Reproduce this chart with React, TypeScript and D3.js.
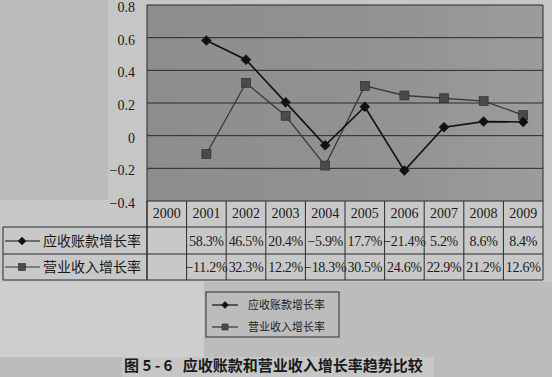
import React from "react";
import * as d3 from "d3";

const years = ["2000", "2001", "2002", "2003", "2004", "2005", "2006", "2007", "2008", "2009"];
const receivables: (number | null)[] = [null, 0.583, 0.465, 0.204, -0.059, 0.177, -0.214, 0.052, 0.086, 0.084];
const revenue: (number | null)[] = [null, -0.112, 0.323, 0.122, -0.183, 0.305, 0.246, 0.229, 0.212, 0.126];
const receivablesLabels = ["", "58.3%", "46.5%", "20.4%", "\u22125.9%", "17.7%", "\u221221.4%", "5.2%", "8.6%", "8.4%"];
const revenueLabels = ["", "\u221211.2%", "32.3%", "12.2%", "\u221218.3%", "30.5%", "24.6%", "22.9%", "21.2%", "12.6%"];
const yTicks = [0.8, 0.6, 0.4, 0.2, 0, -0.2, -0.4];
const seriesNames = ["应收账款增长率", "营业收入增长率"];
const caption = "图 5 - 6   应收账款和营业收入增长率趋势比较";

const W = 552;
const H = 377;
const serif = "'Liberation Serif', 'DejaVu Serif', serif";
const cjk = "'Noto Sans CJK SC', sans-serif";

export default function App() {
  const x = d3.scaleBand<string>().domain(years).range([147, 543]).padding(0);
  const y = d3.scaleLinear().domain([-0.4, 0.8]).range([201, 5]);
  const cx = (yr: string) => (x(yr) as number) + x.bandwidth() / 2;

  const line = d3
    .line<[string, number | null]>()
    .defined((d) => d[1] !== null)
    .x((d) => cx(d[0]))
    .y((d) => y(d[1] as number));

  const recPts = years.map((yr, i) => [yr, receivables[i]] as [string, number | null]);
  const revPts = years.map((yr, i) => [yr, revenue[i]] as [string, number | null]);

  const rowTop = [201, 227, 254, 280];
  const plotL = 147;
  const plotR = 543;

  const diamond = (px: number, py: number, s: number, key?: string | number) => (
    <path
      key={key}
      d={`M${px},${py - s}L${px + s},${py}L${px},${py + s}L${px - s},${py}Z`}
      fill="#111"
      stroke="#111"
      strokeWidth={0.5}
    />
  );
  const square = (px: number, py: number, s: number, key?: string | number) => (
    <rect key={key} x={px - s} y={py - s} width={2 * s} height={2 * s} fill="#4a4a4a" stroke="#2a2a2a" strokeWidth={0.6} />
  );

  return (
    <svg width={W} height={H} style={{ position: "absolute", left: 0, top: 0 }}>
      <defs>
        <linearGradient id="plotbg" x1="0" x2="1" y1="0" y2="0">
          <stop offset="0" stopColor="#8d8d8d" />
          <stop offset="0.6" stopColor="#929292" />
          <stop offset="1" stopColor="#9c9c9c" />
        </linearGradient>
      </defs>
      {/* page backgrounds */}
      <rect x={0} y={0} width={W} height={H} fill="#bcbcbc" />
      <rect x={108} y={0} width={W - 108} height={200} fill="#c6c6c6" />
      <rect x={0} y={200} width={W} height={82} fill="#c8c8c8" />
      <rect x={0} y={282} width={204} height={75} fill="#cecece" />
      <rect x={122} y={357} width={312} height={20} fill="#c6c6c6" />

      {/* plot area */}
      <rect x={plotL} y={y(0.8)} width={plotR - plotL} height={y(-0.4) - y(0.8)} fill="url(#plotbg)" />
      {yTicks.map((t) => (
        <line key={t} x1={plotL} x2={plotR} y1={y(t)} y2={y(t)} stroke="#2a2a2a" strokeWidth={1} />
      ))}
      <line x1={plotL} x2={plotL} y1={y(0.8)} y2={rowTop[3]} stroke="#2a2a2a" strokeWidth={1} />
      <line x1={plotR} x2={plotR} y1={y(0.8)} y2={rowTop[3]} stroke="#2a2a2a" strokeWidth={1} />

      {/* y tick labels */}
      {yTicks.map((t) => (
        <text
          key={t}
          x={135}
          y={y(t) + 7}
          textAnchor="end"
          fontFamily={serif}
          fontSize={14}
          fill="#1a1a1a"
        >
          {t === 0 ? "0" : t < 0 ? "\u2212" + Math.abs(t).toFixed(1) : t.toFixed(1)}
        </text>
      ))}

      {/* lines */}
      <path d={line(revPts) || ""} fill="none" stroke="#3a3a3a" strokeWidth={1.3} />
      <path d={line(recPts) || ""} fill="none" stroke="#111" strokeWidth={1.6} />
      {revPts.filter((d) => d[1] !== null).map((d, i) => square(cx(d[0]), y(d[1] as number), 4.5, "s" + i))}
      {recPts.filter((d) => d[1] !== null).map((d, i) => diamond(cx(d[0]), y(d[1] as number), 5, "d" + i))}

      {/* data table */}
      {years.map((yr) => (
        <line key={"v" + yr} x1={x(yr) as number} x2={x(yr) as number} y1={rowTop[0]} y2={rowTop[3]} stroke="#2a2a2a" strokeWidth={1} />
      ))}
      {rowTop.slice(1).map((ty) => (
        <line key={"h" + ty} x1={3} x2={plotR} y1={ty} y2={ty} stroke="#2a2a2a" strokeWidth={1} />
      ))}
      <line x1={3} x2={3} y1={rowTop[1]} y2={rowTop[3]} stroke="#2a2a2a" strokeWidth={1} />
      {years.map((yr) => (
        <text key={"y" + yr} x={cx(yr)} y={218} textAnchor="middle" fontFamily={serif} fontSize={14} fill="#1a1a1a">
          {yr}
        </text>
      ))}
      {years.map((yr, i) => (
        <text key={"r" + yr} x={cx(yr)} y={246} textAnchor="middle" fontFamily={serif} fontSize={14} fill="#1a1a1a" letterSpacing={-0.3}>
          {receivablesLabels[i]}
        </text>
      ))}
      {years.map((yr, i) => (
        <text key={"e" + yr} x={cx(yr)} y={272} textAnchor="middle" fontFamily={serif} fontSize={14} fill="#1a1a1a" letterSpacing={-0.3}>
          {revenueLabels[i]}
        </text>
      ))}
      {/* row labels */}
      <line x1={5} x2={40} y1={241} y2={241} stroke="#111" strokeWidth={1.2} />
      {diamond(22, 241, 4)}
      <text x={43} y={246} fontFamily={cjk} fontSize={14} fill="#1a1a1a">{seriesNames[0]}</text>
      <line x1={5} x2={40} y1={267} y2={267} stroke="#333" strokeWidth={1.2} />
      {square(22, 267, 3.5)}
      <text x={43} y={272} fontFamily={cjk} fontSize={14} fill="#1a1a1a">{seriesNames[1]}</text>

      {/* legend */}
      <rect x={206} y={292} width={133} height={45} fill="none" stroke="#2a2a2a" strokeWidth={1} />
      <line x1={212} x2={238} y1={305} y2={305} stroke="#111" strokeWidth={1.2} />
      {diamond(225, 305, 3.5)}
      <text x={248} y={309} fontFamily={cjk} fontSize={11} fill="#222">{seriesNames[0]}</text>
      <line x1={212} x2={238} y1={327} y2={327} stroke="#333" strokeWidth={1.2} />
      {square(225, 327, 3)}
      <text x={248} y={331} fontFamily={cjk} fontSize={11} fill="#222">{seriesNames[1]}</text>

      {/* caption */}
      <text x={124} y={371} fontFamily={cjk} fontSize={15} fontWeight={700} fill="#1a1a1a" xmlSpace="preserve">
        {caption}
      </text>
    </svg>
  );
}
